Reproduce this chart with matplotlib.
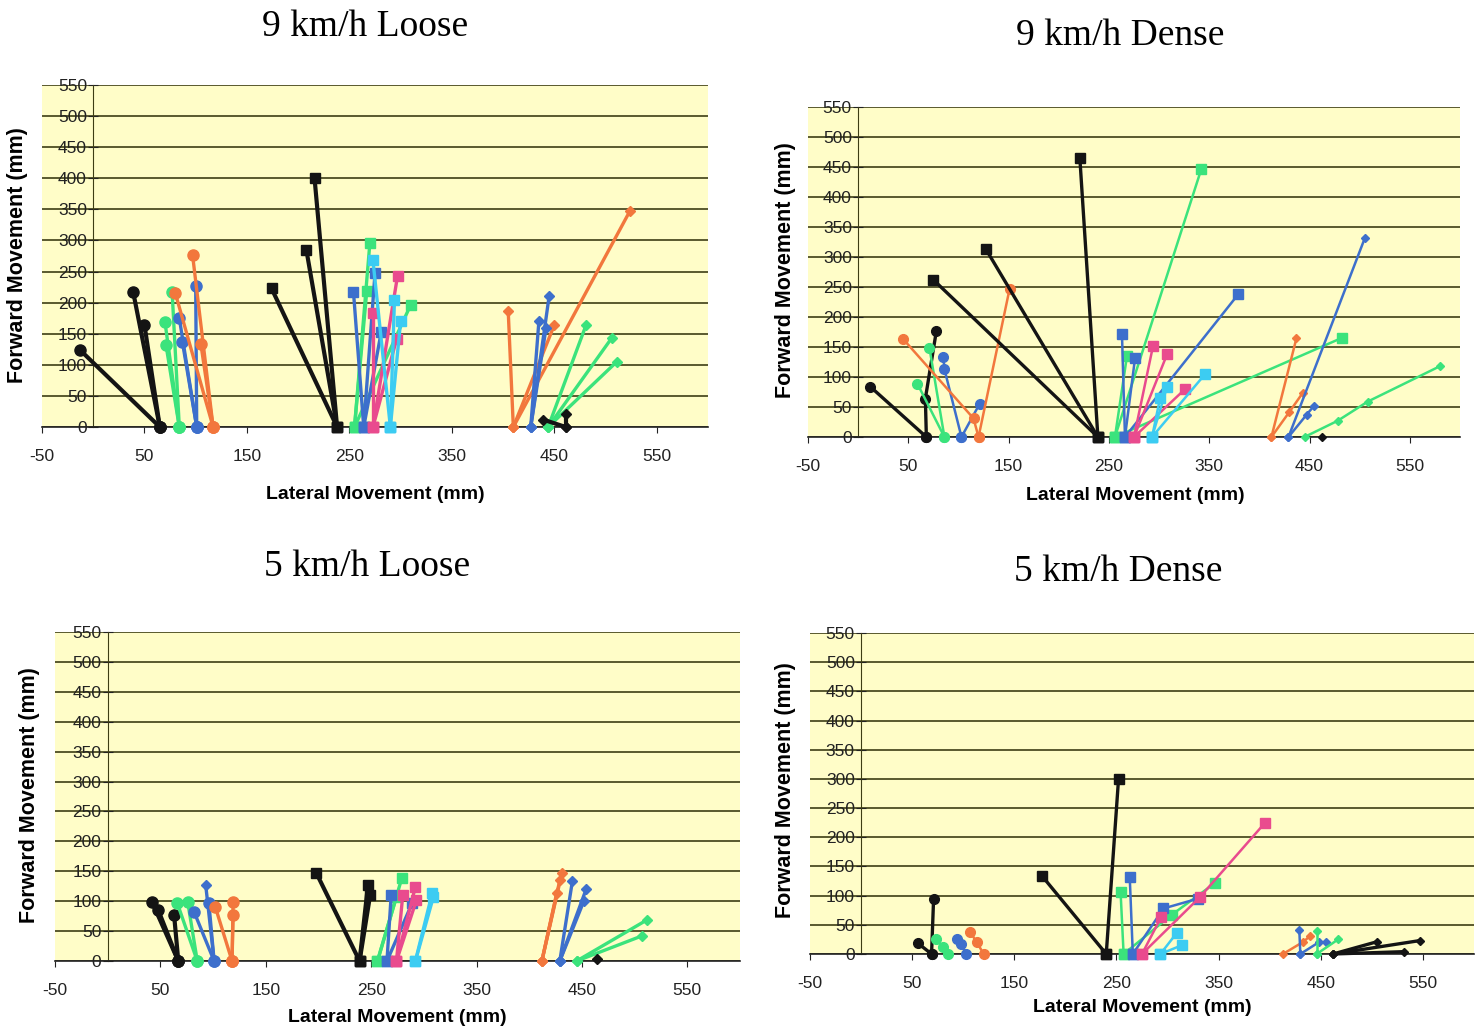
import matplotlib.pyplot as plt

plt.rcParams['font.family'] = ['Liberation Sans', 'DejaVu Sans']
plt.rcParams['axes.unicode_minus'] = False

BLACK = '#141414'
ORANGE = '#F2773D'
BLUE = '#3D6FCC'
GREEN = '#3BE37C'
PINK = '#E94B8E'
CYAN = '#3CCCF2'

# each entry: colour, marker, lateral positions (mm), forward positions (mm)
loose_9 = [
    (BLACK, 'o', [65, -13], [0, 124]), (BLACK, 'o', [65, 39], [0, 217]), (BLACK, 'o', [65, 50], [0, 164]),
    (GREEN, 'o', [84, 70], [0, 169]), (GREEN, 'o', [84, 71], [0, 132]), (GREEN, 'o', [84, 77], [0, 217]),
    (BLUE, 'o', [101, 84], [0, 175]), (BLUE, 'o', [101, 87], [0, 137]), (BLUE, 'o', [101, 100], [0, 227]),
    (ORANGE, 'o', [117, 80], [0, 216]), (ORANGE, 'o', [117, 97], [0, 276]), (ORANGE, 'o', [117, 105], [0, 134]),
    (BLACK, 's', [238, 216], [0, 400]), (BLACK, 's', [238, 208], [0, 285]), (BLACK, 's', [238, 174], [0, 223]),
    (GREEN, 's', [255, 270], [0, 296]), (GREEN, 's', [255, 267], [0, 219]), (GREEN, 's', [255, 310], [0, 197]),
    (BLUE, 's', [264, 254], [0, 217]), (BLUE, 's', [264, 275], [0, 247]), (BLUE, 's', [264, 281], [0, 152]),
    (PINK, 's', [273, 273], [0, 184]), (PINK, 's', [273, 297], [0, 243]), (PINK, 's', [273, 296], [0, 141]),
    (CYAN, 's', [290, 273], [0, 268]), (CYAN, 's', [290, 294], [0, 205]), (CYAN, 's', [290, 300], [0, 170]),
    (ORANGE, 'D', [410, 405], [0, 187]), (ORANGE, 'D', [410, 524], [0, 348]), (ORANGE, 'D', [410, 450], [0, 164]),
    (BLUE, 'D', [427, 445], [0, 211]), (BLUE, 'D', [427, 435], [0, 171]), (BLUE, 'D', [427, 442], [0, 160]),
    (GREEN, 'D', [444, 481], [0, 164]), (GREEN, 'D', [444, 506], [0, 143]), (GREEN, 'D', [444, 511], [0, 105]),
    (BLACK, 'D', [461, 439], [0, 12]), (BLACK, 'D', [461, 461], [0, 21]),
]

dense_9 = [
    (BLACK, 'o', [68, 12], [0, 84]), (BLACK, 'o', [68, 67, 78], [0, 64, 177]),
    (GREEN, 'o', [86, 71], [0, 149]), (GREEN, 'o', [86, 59], [0, 89]),
    (BLUE, 'o', [103, 86, 85], [0, 113, 133]), (BLUE, 'o', [103, 121], [0, 55]),
    (ORANGE, 'o', [120, 115, 45], [0, 31, 163]), (ORANGE, 'o', [120, 151], [0, 247]),
    (BLACK, 's', [239, 75], [0, 262]), (BLACK, 's', [239, 127], [0, 314]), (BLACK, 's', [239, 221], [0, 465]),
    (GREEN, 's', [256, 342], [0, 446]), (GREEN, 's', [256, 268], [0, 135]), (GREEN, 's', [256, 482], [0, 165]),
    (BLUE, 's', [266, 263], [0, 172]), (BLUE, 's', [266, 276], [0, 131]), (BLUE, 's', [266, 379], [0, 238]),
    (PINK, 's', [275, 294], [0, 152]), (PINK, 's', [275, 308], [0, 138]), (PINK, 's', [275, 326], [0, 80]),
    (CYAN, 's', [293, 308], [0, 84]), (CYAN, 's', [293, 301], [0, 65]), (CYAN, 's', [293, 346], [0, 105]),
    (ORANGE, 'D', [412, 437], [0, 165]), (ORANGE, 'D', [412, 430, 443], [0, 42, 73]),
    (BLUE, 'D', [429, 505], [0, 331]), (BLUE, 'D', [429, 447, 454], [0, 37, 51]),
    (GREEN, 'D', [445, 478, 508, 580], [0, 27, 59, 118]),
    (BLACK, 'D', [462], [0]),
]

loose_5 = [
    (BLACK, 'o', [67, 42], [0, 99]), (BLACK, 'o', [67, 48], [0, 85]), (BLACK, 'o', [67, 63], [0, 77]),
    (GREEN, 'o', [85, 66], [0, 97]), (GREEN, 'o', [85, 76], [0, 98]),
    (BLUE, 'o', [101, 82], [0, 82]), (BLUE, 'o', [101, 96], [0, 97]), (BLUE, 'D', [101, 93], [0, 127]),
    (ORANGE, 'o', [118, 102], [0, 91]), (ORANGE, 'o', [118, 119], [0, 99]), (ORANGE, 'o', [118, 119], [0, 77]),
    (BLACK, 's', [239, 198], [0, 147]), (BLACK, 's', [239, 247], [0, 127]), (BLACK, 's', [239, 249], [0, 110]),
    (GREEN, 's', [256, 279], [0, 138]), (GREEN, 's', [256, 274], [0, 107]),
    (BLUE, 's', [265, 269], [0, 110]), (BLUE, 's', [265, 289], [0, 97]),
    (PINK, 's', [274, 292], [0, 124]), (PINK, 's', [274, 280], [0, 110]), (PINK, 's', [274, 293], [0, 102]),
    (CYAN, 's', [292, 308], [0, 114]), (CYAN, 's', [292, 309], [0, 107]),
    (ORANGE, 'D', [412, 431], [0, 147]), (ORANGE, 'D', [412, 426], [0, 113]), (ORANGE, 'D', [412, 429], [0, 135]),
    (BLUE, 'D', [429, 441], [0, 134]), (BLUE, 'D', [429, 454], [0, 120]), (BLUE, 'D', [429, 452], [0, 101]),
    (GREEN, 'D', [445, 512], [0, 69]), (GREEN, 'D', [445, 507], [0, 42]),
    (BLACK, 'D', [464], [3]),
]

dense_5 = [
    (BLACK, 'o', [69, 56], [0, 18]), (BLACK, 'o', [69, 71], [0, 95]),
    (GREEN, 'o', [85, 80, 73], [0, 12, 25]),
    (BLUE, 'o', [103, 98, 94], [0, 17, 25]),
    (ORANGE, 'o', [120, 113, 107], [0, 21, 37]),
    (BLACK, 's', [240, 177], [0, 134]), (BLACK, 's', [240, 252], [0, 299]),
    (GREEN, 's', [257, 254], [0, 107]), (GREEN, 's', [257, 304, 346], [0, 67, 121]),
    (BLUE, 's', [266, 263], [0, 132]), (BLUE, 's', [266, 296, 330], [0, 78, 95]),
    (PINK, 's', [275, 294], [0, 64]), (PINK, 's', [275, 332, 395], [0, 98, 224]),
    (CYAN, 's', [293, 314], [0, 15]), (CYAN, 's', [293, 309], [0, 36]),
    (ORANGE, 'D', [413, 433, 439], [0, 21, 30]),
    (BLUE, 'D', [430, 429], [0, 41]), (BLUE, 'D', [430, 448, 455], [0, 20, 20]),
    (GREEN, 'D', [446, 446], [0, 40]), (GREEN, 'D', [446, 467], [0, 25]),
    (BLACK, 'D', [462, 547], [0, 23]), (BLACK, 'D', [462, 505], [0, 21]), (BLACK, 'D', [462, 531], [0, 4]),
]

x_ticks = list(range(-50, 551, 100))
y_ticks = list(range(0, 551, 50))

fig = plt.figure(figsize=(14.76, 10.33), dpi=100)

W, H = 1476, 1033
panels = [
    # series, plot box (px: left, top, right, bottom), title, title pos, ylabel pos, xlabel pos, line width
    (loose_9, (42, 85, 708, 427), '9 km/h Loose', (365, 27), (18, 255), (375, 494), 2.4),
    (dense_9, (808, 107, 1460, 437), '9 km/h Dense', (1120, 36), (785, 270), (1135, 495), 1.8),
    (loose_5, (55, 632, 740, 961), '5 km/h Loose', (367, 567), (30, 795), (397, 1017), 2.4),
    (dense_5, (810, 633, 1474, 954), '5 km/h Dense', (1118, 572), (785, 790), (1142, 1008), 1.8),
]

for series, box, title, tpos, ypos, xpos, lw in panels:
    l, t, r, b = box
    ax = fig.add_axes([l / W, 1 - b / H, (r - l) / W, (b - t) / H])
    ax.set_facecolor('#FFFDC8')
    ax.set_xlim(-50, 600)
    ax.set_ylim(0, 550)
    ax.spines['left'].set_position(('data', 0))
    ax.spines['left'].set_color('#3d3d14')
    ax.spines['bottom'].set_color('#222222')
    ax.spines['bottom'].set_linewidth(1.2)
    ax.spines['top'].set_visible(False)
    ax.spines['right'].set_visible(False)
    ax.set_xticks(x_ticks)
    ax.set_yticks(y_ticks)
    ax.yaxis.grid(True, color='#3d3d14', lw=1.2)
    ax.set_axisbelow(True)
    ax.tick_params(axis='y', direction='inout', length=7, pad=1, labelsize=12.5, colors='#222222')
    ax.tick_params(axis='x', direction='out', length=4, pad=12, labelsize=12.5, colors='#222222')

    for color, marker, xs, ys in series:
        ms = {'o': 8, 's': 7.5, 'D': 5.5}[marker]
        if lw < 2:
            ms -= 1
        ax.plot(xs, ys, color=color, marker=marker, lw=lw if color != BLACK else lw + 0.6,
                ms=ms, clip_on=False, zorder=3)

    fig.text(tpos[0] / W, 1 - tpos[1] / H, title, family='Liberation Serif', fontsize=27,
             ha='center', va='center')
    fig.text(ypos[0] / W, 1 - ypos[1] / H, 'Forward Movement (mm)', fontsize=15.5, weight='bold',
             rotation=90, ha='center', va='center')
    fig.text(xpos[0] / W, 1 - xpos[1] / H, 'Lateral Movement (mm)', fontsize=14, weight='bold',
             ha='center', va='center')

plt.savefig('out.png', dpi=100)
